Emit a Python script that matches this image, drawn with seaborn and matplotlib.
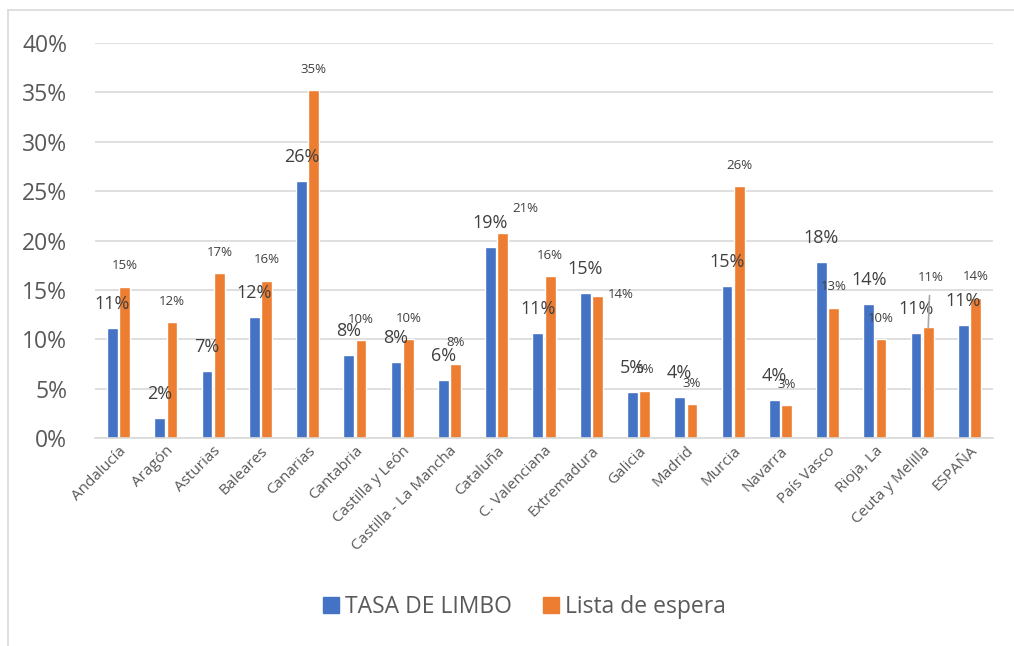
import numpy as np
import pandas as pd
import seaborn as sns
import matplotlib.pyplot as plt
from matplotlib.lines import Line2D
from matplotlib.ticker import PercentFormatter

regiones = ["Andalucía", "Aragón", "Asturias", "Baleares", "Canarias", "Cantabria",
            "Castilla y León", "Castilla - La Mancha", "Cataluña", "C. Valenciana",
            "Extremadura", "Galicia", "Madrid", "Murcia", "Navarra", "País Vasco",
            "Rioja, La", "Ceuta y Melilla", "ESPAÑA"]
tasa_limbo = [0.111, 0.020, 0.068, 0.123, 0.260, 0.084, 0.077, 0.059, 0.193, 0.106,
              0.147, 0.047, 0.042, 0.154, 0.038, 0.178, 0.136, 0.106, 0.114]
lista_espera = [0.153, 0.117, 0.167, 0.159, 0.352, 0.099, 0.100, 0.075, 0.208, 0.164,
                0.144, 0.048, 0.034, 0.255, 0.033, 0.132, 0.100, 0.112, 0.142]
series = ["TASA DE LIMBO", "Lista de espera"]
colores = ["#4472C4", "#ED7D31"]

df = pd.DataFrame({
    "region": regiones * 2,
    "serie": [series[0]] * len(regiones) + [series[1]] * len(regiones),
    "valor": tasa_limbo + lista_espera,
})

sns.set_style("white")
plt.rcParams["font.family"] = ["Open Sans", "DejaVu Sans"]
gris = "#595959"

fig = plt.figure(figsize=(10.14, 6.46), dpi=100)
ax = fig.add_axes([95 / 1014, 1 - 438 / 646, 898 / 1014, 395 / 646])

sns.barplot(data=df, x="region", y="valor", hue="serie", palette=colores,
            width=0.52, gap=0.12, ax=ax, legend=False, saturation=1)

ax.set_ylim(0, 0.40)
ax.set_yticks(np.arange(0, 0.41, 0.05))
ax.yaxis.set_major_formatter(PercentFormatter(1.0, decimals=0))
ax.grid(axis="y", color="#D9D9D9", linewidth=1.2)
ax.set_axisbelow(True)
for s in ["top", "right", "left"]:
    ax.spines[s].set_visible(False)
ax.spines["bottom"].set_color("#D9D9D9")
ax.spines["bottom"].set_linewidth(1.2)
ax.set_xlabel("")
ax.set_ylabel("")
ax.tick_params(axis="y", labelsize=16.5, labelcolor=gris, length=0, pad=20)
ax.tick_params(axis="x", labelsize=11, labelcolor=gris, length=0, pad=4)
plt.setp(ax.get_xticklabels(), rotation=45, ha="right", rotation_mode="anchor")

# etiquetas de datos
ajustes = {("Lista de espera", "Extremadura"): (10, 1, "left"),
           ("Lista de espera", "Cataluña"): (22, 24, "center"),
           ("Lista de espera", "Ceuta y Melilla"): (2, 50, "center")}
for cont, serie, vals, fs, dy in zip(ax.containers, series,
                                     [tasa_limbo, lista_espera], [13, 9.5], [24, 21]):
    for bar, reg, v in zip(cont, regiones, vals):
        x = bar.get_x() + bar.get_width() / 2
        ox, oy, ha = ajustes.get((serie, reg), (0, dy, "center"))
        props = None
        if (serie, reg) == ("Lista de espera", "Ceuta y Melilla"):
            props = dict(arrowstyle="-", color="#A6A6A6", lw=1.2, shrinkA=6, shrinkB=0)
        ax.annotate(f"{v * 100:.0f}%", (x, v), xytext=(ox, oy),
                    textcoords="offset pixels", ha=ha, va="center",
                    fontsize=fs, color="#404040", arrowprops=props)

handles = [Line2D([], [], marker="s", linestyle="", markersize=11,
                  markerfacecolor=c, markeredgecolor=c) for c in colores]
fig.legend(handles, series, loc="center", bbox_to_anchor=(524 / 1014, 1 - 607 / 646),
           ncol=2, frameon=False, fontsize=16.5, labelcolor=gris,
           handletextpad=0.2, columnspacing=1.3, handlelength=0.8)

# borde del area del grafico
fig.add_artist(Line2D([8 / 1014, 8 / 1014], [0, 1 - 10 / 646], color="#D9D9D9", lw=1.2))
fig.add_artist(Line2D([8 / 1014, 1], [1 - 10 / 646, 1 - 10 / 646], color="#D9D9D9", lw=1.2))

fig.savefig("out.png", dpi=100)
